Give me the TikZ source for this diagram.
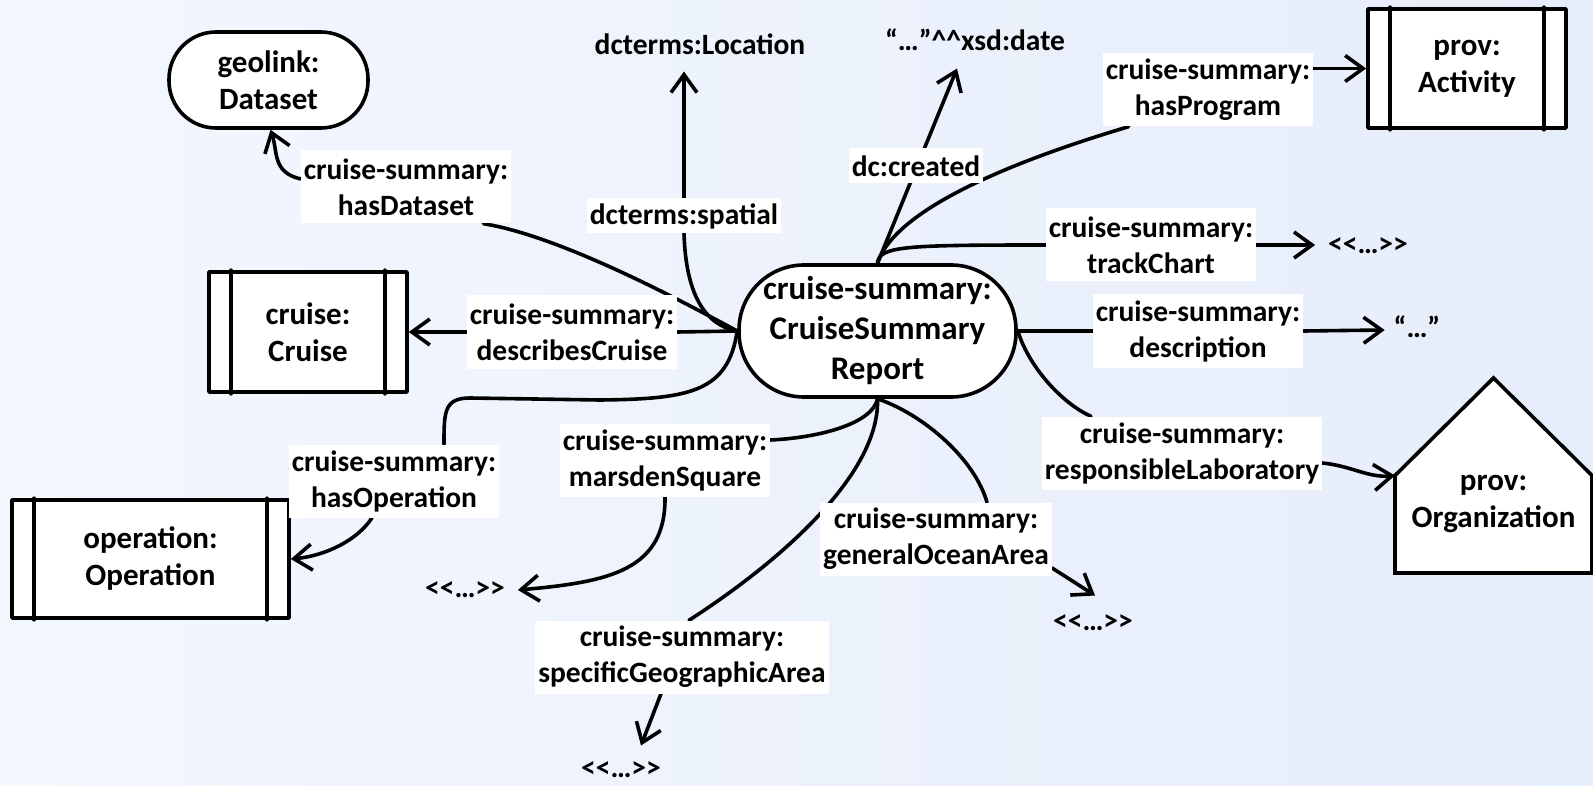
\documentclass[tikz,border=0pt]{standalone}
\usepackage{fontspec}
\newfontfamily\carlitofont{Carlito}
\usetikzlibrary{arrows.meta,calc}
\pgfdeclarelayer{back}
\pgfdeclarelayer{wires}
\pgfsetlayers{back,wires,main}
\definecolor{paperL}{RGB}{243,247,254}
\definecolor{paperR}{RGB}{230,237,250}

\begin{document}
\begin{tikzpicture}[x=1pt,y=-1pt,
  thick line/.style={line width=3.6pt, line cap=round, line join=round},
  arr/.style={thick line, -{Straight Barb[length=18pt,width=26pt]}},
  entity/.style={draw, fill=white, thick line, align=center, inner sep=0pt,
    font=\carlitofont\bfseries\fontsize{31}{37}\selectfont},
  stadium/.style={entity, rounded corners=#1},
  hub/.style={draw, fill=white, thick line, align=center, inner sep=0pt,
    rounded corners=65pt, minimum width=277pt, minimum height=132pt,
    font=\carlitofont\bfseries\fontsize{33}{40}\selectfont},
  lbl/.style={fill=white, align=center, inner xsep=3pt, inner ysep=0pt,
    minimum height=73pt, font=\carlitofont\bfseries\fontsize{29.5}{36}\selectfont},
  lblone/.style={lbl, minimum height=35pt},
  term/.style={inner sep=0pt, outer sep=13pt, text height=22pt, text depth=7pt,
    font=\carlitofont\bfseries\fontsize{29.5}{36}\selectfont}
]
\useasboundingbox (0,0) rectangle (1593,786);
\begin{pgfonlayer}{back}
  \shade[left color=paperL, right color=paperR] (0,0) rectangle (1593,786);
\end{pgfonlayer}

% central class
\node[hub] (central) at (877.5,331) {cruise-summary:\\CruiseSummary\\Report};

% related classes
\node[stadium=47pt, minimum width=199pt, minimum height=96pt] (geolink) at (268.5,80) {geolink:\\Dataset};
\node[entity, minimum width=198pt, minimum height=120pt] (cruise) at (308,332) {cruise:\\Cruise};
\node[entity, minimum width=198pt, minimum height=119pt] (activity) at (1467,68.5) {prov:\\Activity};
\node[entity, minimum width=277pt, minimum height=118pt] (operation) at (150.5,559) {operation:\\Operation};
\node[minimum width=197pt, minimum height=195pt, inner sep=0pt, outer sep=0pt,
  label={[align=center, inner sep=0pt, yshift=-28pt,
    font=\carlitofont\bfseries\fontsize{31}{37}\selectfont]center:{prov:\\Organization}}] (org) at (1493.5,475.5) {};

% side bars of the class boxes
\foreach \n in {cruise,activity,operation}{
  \draw[thick line] ([xshift=24pt]\n.north west) -- ([xshift=24pt]\n.south west);
  \draw[thick line] ([xshift=-24pt]\n.north east) -- ([xshift=-24pt]\n.south east);
}

% literal and open-ended targets
\node[term, outer sep=10pt] (location) at (700,47) {dcterms:Location};
\node[term, outer sep=11pt] (xsddate) at (975,43) {“…”\textasciicircum\textasciicircum xsd:date};
\node[term] (tcMore) at (1368,246) {<<…>>};
\node[term] (msMore) at (465,590) {<<…>>};
\node[term, outer sep=10pt] (sgMore) at (621,770) {<<…>>};
\node[term] (goMore) at (1093,623) {<<…>>};
\node[term, outer sep=9pt] (descLit) at (1417,330) {“…”};

% property labels
\node[lbl] (lbDataset) at (406,187) {cruise-summary:\\hasDataset};
\node[lblone] (lbSpatial) at (684,216) {dcterms:spatial};
\node[lblone] (lbCreated) at (916,166) {dc:created};
\node[lbl] (lbProgram) at (1208,90) {cruise-summary:\\hasProgram};
\node[lbl] (lbTrack) at (1151,245) {cruise-summary:\\trackChart};
\node[lbl] (lbDescribes) at (572,332) {cruise-summary:\\describesCruise};
\node[lbl] (lbOperation) at (394,481) {cruise-summary:\\hasOperation};
\node[lbl] (lbMarsden) at (665,460) {cruise-summary:\\marsdenSquare};
\node[lbl] (lbSpecific) at (682,657) {cruise-summary:\\specificGeographicArea};
\node[lbl] (lbOcean) at (936,539) {cruise-summary:\\generalOceanArea};
\node[lbl] (lbDesc) at (1198,331) {cruise-summary:\\description};
\node[lbl] (lbLab) at (1182,453) {cruise-summary:\\responsibleLaboratory};

\begin{pgfonlayer}{wires}
\begin{scope}[thick line]
  % organization house outline
  \filldraw[fill=white, line join=miter] (org.south west) -- (org.west) -- (org.north)
    -- (org.east) -- (org.south east) -- cycle;

  % hasDataset
  \draw (central.west) .. controls (680,300) and (560,236) .. ([xshift=-28pt]lbDataset.south east);
  \draw[arr] ([yshift=8pt]lbDataset.west) .. controls (272,172) and (278,152) .. ([xshift=2pt]geolink.south);

  % dcterms:spatial
  \draw (central.west) .. controls (705,325) and (686,295) .. (lbSpatial.south);
  \draw[arr] (lbSpatial.north) -- (lbSpatial.north |- location.south);

  % dc:created
  \draw[arr] (central.north) -- ([xshift=-18pt]xsddate.south);

  % hasProgram
  \draw (central.north) .. controls (893,215) and (990,168) .. ([xshift=26pt]lbProgram.south west);
  \draw[arr] (lbProgram.east |- activity.west) -- (activity.west);

  % trackChart
  \draw (central.north) .. controls (879,246) and (905,245) .. (lbTrack.west);
  \draw[arr] (lbTrack.east) -- (lbTrack.east -| tcMore.west);

  % describesCruise
  \draw (central.west) -- (lbDescribes.east);
  \draw[arr] (lbDescribes.west) -- (lbDescribes.west -| cruise.east);

  % hasOperation
  \draw (central.west) .. controls (728,392) and (690,399) .. (600,400) -- (470,398)
    .. controls (444,398) and (444,412) .. ([xshift=50pt]lbOperation.north);
  \draw[arr] ([xshift=-22pt]lbOperation.south) .. controls (358,540) and (325,556) .. (operation.east);

  % marsdenSquare
  \draw (central.south) .. controls (872,425) and (815,438) .. ([yshift=20pt]lbMarsden.east);
  \draw[arr] (lbMarsden.south) .. controls (666,570) and (610,582) .. (msMore.east);

  % specificGeographicArea
  \draw (central.south) .. controls (880,470) and (790,555) .. ([xshift=7pt]lbSpecific.north);
  \draw[arr] ([xshift=-21pt]lbSpecific.south) -- ([xshift=20pt]sgMore.north);

  % generalOceanArea
  \draw (central.south) .. controls (925,415) and (975,460) .. ([xshift=51pt]lbOcean.north);
  \draw[arr] ([yshift=-29pt]lbOcean.east) -- ([xshift=2pt]goMore.north);

  % description
  \draw (central.east) -- (lbDesc.west);
  \draw[arr] (lbDesc.east) -- (descLit.west);

  % responsibleLaboratory
  \draw (central.east) .. controls (1030,370) and (1065,405) .. ([xshift=-91pt]lbLab.north);
  \draw[arr] ([yshift=-10pt]lbLab.east) .. controls (1352,466) and (1368,478) .. (org.west);
\end{scope}
\end{pgfonlayer}
\end{tikzpicture}
\end{document}
